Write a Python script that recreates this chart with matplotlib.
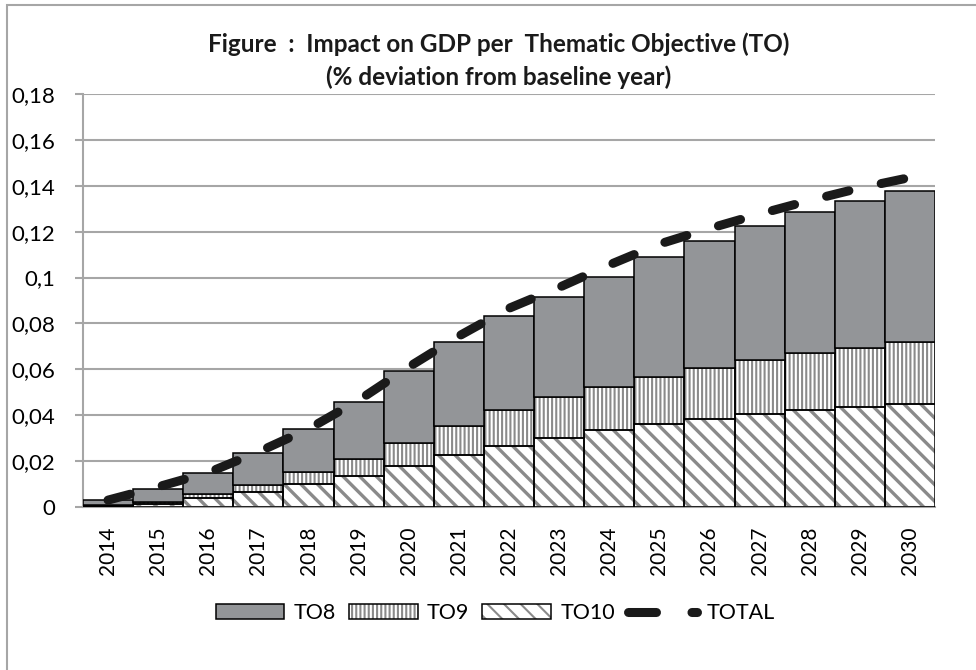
import matplotlib
matplotlib.use("Agg")
import matplotlib.pyplot as plt
from matplotlib.patches import Rectangle
from matplotlib.lines import Line2D
import numpy as np

plt.rcParams['font.family'] = ['Lato', 'DejaVu Sans']
plt.rcParams['hatch.linewidth'] = 1.5

# values
years = [str(y) for y in range(2014, 2031)]
to10 = [0.0005, 0.0012, 0.0041, 0.0067, 0.0099, 0.0134, 0.0179, 0.0227, 0.0267,
        0.0302, 0.0336, 0.0362, 0.0384, 0.0405, 0.0423, 0.0437, 0.0449]
to9 = [0.0003, 0.0011, 0.0014, 0.0029, 0.0052, 0.0075, 0.0101, 0.0127, 0.0156,
       0.0176, 0.0188, 0.0206, 0.0223, 0.0236, 0.0247, 0.0257, 0.0272]
to8 = [0.0022, 0.0054, 0.0094, 0.0140, 0.0187, 0.0249, 0.0314, 0.0367, 0.0410,
       0.0439, 0.0480, 0.0521, 0.0553, 0.0584, 0.0615, 0.0639, 0.0656]
total = [0.0030, 0.0088, 0.0150, 0.0240, 0.0340, 0.0465, 0.0610, 0.0745, 0.0866,
         0.0957, 0.1055, 0.1146, 0.1214, 0.1277, 0.1336, 0.1390, 0.1436]
yticks = [0, 0.02, 0.04, 0.06, 0.08, 0.1, 0.12, 0.14, 0.16, 0.18]
ytick_labels = ["0", "0,02", "0,04", "0,06", "0,08", "0,1", "0,12", "0,14", "0,16", "0,18"]

title1 = "Figure  :  Impact on GDP per  Thematic Objective (TO)"
title2 = "(% deviation from baseline year)"

GRAY = "#939598"
HATCH = "#8a8a8a"
GRID = "#a6a6a6"

fig = plt.figure(figsize=(9.76, 6.70), dpi=100)
ax = fig.add_axes([0.085, 0.2433, 0.873, 0.6164])

x = np.arange(len(years))
to10 = np.array(to10)
to9 = np.array(to9)
to8 = np.array(to8)

# hatched fills first (gray hatch), then black outlines on top
with plt.rc_context({'hatch.linewidth': 2.4}):
    h10 = ax.bar(x, to10, width=1.0, color="white", edgecolor=HATCH, hatch="\\\\", lw=0, zorder=2)
for p in h10:
    if hasattr(p, "set_hatch_linewidth"):
        p.set_hatch_linewidth(2.4)
o10 = ax.bar(x, to10, width=1.0, fill=False, edgecolor="black", lw=1.1, zorder=3)
h9 = ax.bar(x, to9, bottom=to10, width=1.0, color="white", edgecolor=HATCH, hatch="||||", lw=0, zorder=2)
o9 = ax.bar(x, to9, bottom=to10, width=1.0, fill=False, edgecolor="black", lw=1.1, zorder=3)
b8 = ax.bar(x, to8, bottom=to10 + to9, width=1.0, color=GRAY, edgecolor="black", lw=1.1, zorder=3)

line, = ax.plot(x, total, color="#1a1a1a", lw=6.5, solid_capstyle="round",
                dash_capstyle="round", zorder=4)
line.set_dashes([2.55, 3.66])

ax.set_xlim(-0.5, len(years) - 0.5)
ax.set_ylim(0, 0.18)
ax.set_yticks(yticks)
ax.set_yticklabels(ytick_labels)
ax.set_xticks(x)
ax.set_xticklabels(years, rotation=90)
ax.tick_params(axis="y", length=6, width=1.5, color=GRID, pad=14, labelsize=16)
ax.tick_params(axis="x", length=0, pad=14, labelsize=15)
ax.yaxis.grid(True, color=GRID, lw=1.5, zorder=0)
ax.set_axisbelow(True)
for s in ["top", "right"]:
    ax.spines[s].set_visible(False)
for s in ["left", "bottom"]:
    ax.spines[s].set_color(GRID)
    ax.spines[s].set_linewidth(1.5)

tot_handle = Line2D([], [], color="#1a1a1a", lw=6.5, dash_capstyle="round")
tot_handle.set_dashes([3.1, 3.93])
leg = fig.legend([b8[0], (h9[0], o9[0]), (h10[0], o10[0]), tot_handle],
                 ["TO8", "TO9", "TO10", "TOTAL"], loc="center",
                 bbox_to_anchor=(495 / 976, 1 - 613 / 670), ncol=4, frameon=False,
                 fontsize=15.5, handlelength=3.2, handleheight=0.68,
                 handletextpad=0.43, columnspacing=0.6)

fig.text(499 / 976, 1 - 52 / 670, title1, ha="center", va="baseline",
         fontsize=17.5, fontweight="bold", color="#1a1a1a")
fig.text(499 / 976, 1 - 85 / 670, title2, ha="center", va="baseline",
         fontsize=17.5, fontweight="bold", color="#1a1a1a")

# chart area border (left and top edges visible)
fig.patches.append(Rectangle((7 / 976, -0.05), 1.1, 1 - 5 / 670 + 0.05,
                             transform=fig.transFigure, fill=False,
                             edgecolor=GRID, lw=1.5))

fig.savefig("out.png", dpi=100)
